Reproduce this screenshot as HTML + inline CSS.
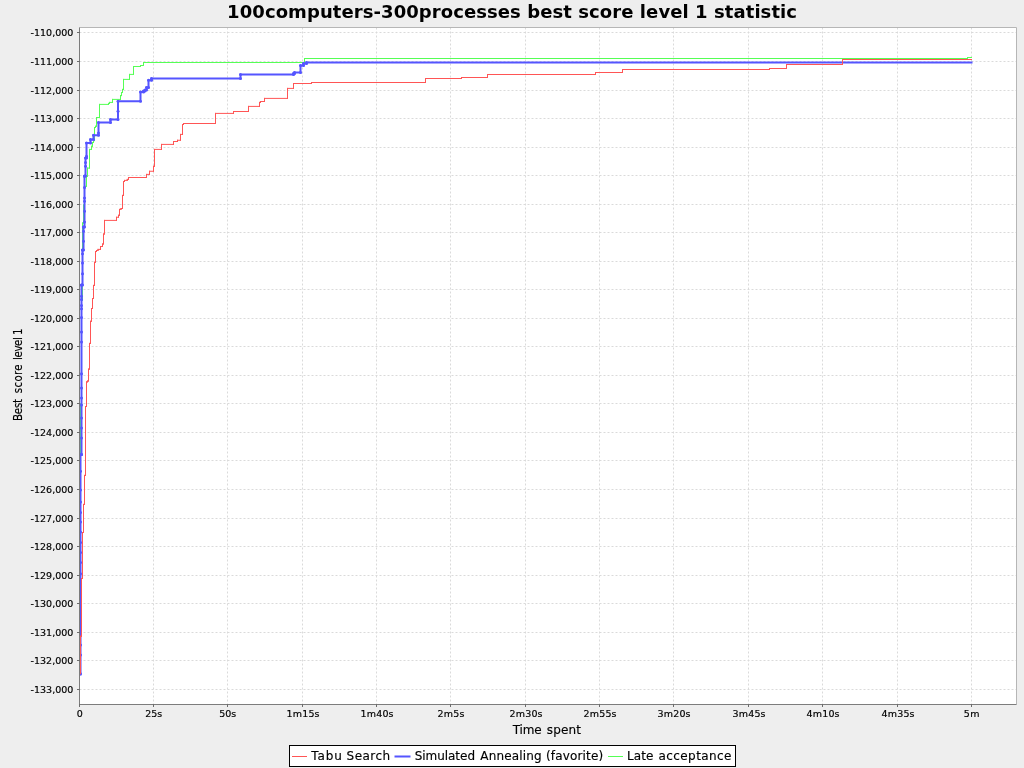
<!DOCTYPE html>
<html><head><meta charset="utf-8"><title>100computers-300processes best score level 1 statistic</title>
<style>
html,body{margin:0;padding:0;background:#eeeeee;}
svg{display:block;will-change:transform;}
text{font-family:"DejaVu Sans","Liberation Sans",sans-serif;fill:#000;}
.tk{font-size:9.5px;stroke:#000;stroke-width:0.18px;}
.ax{font-size:12px;stroke:#000;stroke-width:0.15px;}
.lg{font-size:12px;stroke:#000;stroke-width:0.15px;}
.ti{font-size:18px;font-weight:bold;}
</style></head><body>
<svg width="1024" height="768" viewBox="0 0 1024 768">
<rect x="0" y="0" width="1024" height="768" fill="#eeeeee"/>
<rect x="79.5" y="27.5" width="937" height="677" fill="#ffffff"/>
<g stroke="#dadada" stroke-width="1" stroke-dasharray="2,2" fill="none"><path d="M79.5,27.5 V704.5"/><path d="M153.5,27.5 V704.5"/><path d="M227.5,27.5 V704.5"/><path d="M302.5,27.5 V704.5"/><path d="M376.5,27.5 V704.5"/><path d="M450.5,27.5 V704.5"/><path d="M525.5,27.5 V704.5"/><path d="M599.5,27.5 V704.5"/><path d="M673.5,27.5 V704.5"/><path d="M748.5,27.5 V704.5"/><path d="M822.5,27.5 V704.5"/><path d="M897.5,27.5 V704.5"/><path d="M971.5,27.5 V704.5"/><path d="M79.5,32.5 H1016.5"/><path d="M79.5,61.5 H1016.5"/><path d="M79.5,90.5 H1016.5"/><path d="M79.5,118.5 H1016.5"/><path d="M79.5,147.5 H1016.5"/><path d="M79.5,175.5 H1016.5"/><path d="M79.5,204.5 H1016.5"/><path d="M79.5,232.5 H1016.5"/><path d="M79.5,261.5 H1016.5"/><path d="M79.5,289.5 H1016.5"/><path d="M79.5,318.5 H1016.5"/><path d="M79.5,346.5 H1016.5"/><path d="M79.5,375.5 H1016.5"/><path d="M79.5,403.5 H1016.5"/><path d="M79.5,432.5 H1016.5"/><path d="M79.5,460.5 H1016.5"/><path d="M79.5,489.5 H1016.5"/><path d="M79.5,518.5 H1016.5"/><path d="M79.5,546.5 H1016.5"/><path d="M79.5,575.5 H1016.5"/><path d="M79.5,603.5 H1016.5"/><path d="M79.5,632.5 H1016.5"/><path d="M79.5,660.5 H1016.5"/><path d="M79.5,689.5 H1016.5"/></g>
<g fill="none" stroke-linejoin="miter" stroke-linecap="square">
<path d="M80.5,674V404M80.5,404H81.5M81.5,404V300M81.5,300H82.5M82.5,300V223M82.5,223H83.5M83.5,223V205M83.5,205H84.5M84.5,205V186.25M84.5,186.25H86.5M86.5,186.25V176.25M86.5,176.25H87.5M87.5,176.25V168.1M87.5,168.1H89.5M89.5,168.1V149.4M89.5,149.4H91.5M91.5,149.4V146.25M91.5,146.25H92.5M92.5,146.25V142.5M92.5,142.5H93.5M93.5,142.5V140.6M93.5,140.6H94.5M94.5,140.6V127.5M94.5,127.5H95.5M95.5,127.5V126.25M95.5,126.25H96.5M96.5,126.25V117.5M96.5,117.5H99.5M99.5,117.5V104.4M99.5,104.4H108.5M108.5,104.4V103.4M108.5,103.4H109.5M109.5,103.4V102.4M109.5,102.4H112.5M112.5,102.4V99.4M112.5,99.4H120.5M120.5,99.4V95.6M120.5,95.6H121.5M121.5,95.6V92.5M121.5,92.5H122.5M122.5,92.5V89.4M122.5,89.4H123.5M123.5,89.4V79.4M123.5,79.4H129.5M129.5,79.4V74.4M129.5,74.4H133.5M133.5,74.4V66.5M133.5,66.5H140.5M140.5,66.5V65.5M140.5,65.5H143.5M143.5,65.5V62.5M143.5,62.5H304.5M304.5,62.5V58.5M304.5,58.5H967.5M967.5,58.5V57.5M967.5,57.5H971.5" stroke="#55ff55" stroke-width="1"/>
<path d="M80.5,674.5V454.5M80.5,454.5H81.5M81.5,454.5V285M81.5,285H82.5M82.5,285V250M82.5,250H83.5M83.5,250V227M83.5,227H84.5M84.5,227V176M84.5,176H85.5M85.5,176V158M85.5,158H86.5M86.5,158V143M86.5,143H90.5M90.5,143V139.5M90.5,139.5H93.5M93.5,139.5V135.25M93.5,135.25H98.5M98.5,135.25V122.4M98.5,122.4H110.5M110.5,122.4V119.4M110.5,119.4H118M118,119.4V101.25M118,101.25H140.5M140.5,101.25V91.9M140.5,91.9H143.5M143.5,91.9V91M143.5,91H145M145,91V90M145,90H146.5M146.5,90V87.5M146.5,87.5H148.5M148.5,87.5V80.25M148.5,80.25H151.5M151.5,80.25V78.4M151.5,78.4H240.5M240.5,78.4V74.5M240.5,74.5H293.5M293.5,74.5V73.5M293.5,73.5H294.5M294.5,73.5V72.6M294.5,72.6H300.5M300.5,72.6V65.5M300.5,65.5H303.5M303.5,65.5V63.6M303.5,63.6H306.5M306.5,63.6V62.4M306.5,62.4H971.5" stroke="#5555ff" stroke-width="2"/>
<g fill="#5555ff" stroke="none"><circle cx="80.5" cy="454.5" r="1.5"/><circle cx="81.5" cy="454.5" r="1.5"/><circle cx="81.5" cy="285" r="1.5"/><circle cx="82.5" cy="285" r="1.5"/><circle cx="82.5" cy="250" r="1.5"/><circle cx="83.5" cy="250" r="1.5"/><circle cx="83.5" cy="227" r="1.5"/><circle cx="84.5" cy="227" r="1.5"/><circle cx="84.5" cy="176" r="1.5"/><circle cx="85.5" cy="176" r="1.5"/><circle cx="85.5" cy="158" r="1.5"/><circle cx="86.5" cy="158" r="1.5"/><circle cx="86.5" cy="143" r="1.5"/><circle cx="90.5" cy="143" r="1.5"/><circle cx="90.5" cy="139.5" r="1.5"/><circle cx="93.5" cy="139.5" r="1.5"/><circle cx="93.5" cy="135.25" r="1.5"/><circle cx="98.5" cy="135.25" r="1.5"/><circle cx="98.5" cy="122.4" r="1.5"/><circle cx="110.5" cy="122.4" r="1.5"/><circle cx="110.5" cy="119.4" r="1.5"/><circle cx="118" cy="119.4" r="1.5"/><circle cx="118" cy="101.25" r="1.5"/><circle cx="140.5" cy="101.25" r="1.5"/><circle cx="140.5" cy="91.9" r="1.5"/><circle cx="143.5" cy="91.9" r="1.5"/><circle cx="143.5" cy="91" r="1.5"/><circle cx="145" cy="91" r="1.5"/><circle cx="145" cy="90" r="1.5"/><circle cx="146.5" cy="90" r="1.5"/><circle cx="146.5" cy="87.5" r="1.5"/><circle cx="148.5" cy="87.5" r="1.5"/><circle cx="148.5" cy="80.25" r="1.5"/><circle cx="151.5" cy="80.25" r="1.5"/><circle cx="151.5" cy="78.4" r="1.5"/><circle cx="240.5" cy="78.4" r="1.5"/><circle cx="240.5" cy="74.5" r="1.5"/><circle cx="293.5" cy="74.5" r="1.5"/><circle cx="293.5" cy="73.5" r="1.5"/><circle cx="294.5" cy="73.5" r="1.5"/><circle cx="294.5" cy="72.6" r="1.5"/><circle cx="300.5" cy="72.6" r="1.5"/><circle cx="300.5" cy="65.5" r="1.5"/><circle cx="303.5" cy="65.5" r="1.5"/><circle cx="303.5" cy="63.6" r="1.5"/><circle cx="306.5" cy="63.6" r="1.5"/><circle cx="306.5" cy="62.4" r="1.5"/><circle cx="80.5" cy="673.75" r="1.5"/><circle cx="80.5" cy="655" r="1.5"/><circle cx="80.5" cy="645" r="1.5"/><circle cx="80.5" cy="573.75" r="1.5"/><circle cx="80.5" cy="562.5" r="1.5"/><circle cx="80.5" cy="552.5" r="1.5"/><circle cx="80.5" cy="542.5" r="1.5"/><circle cx="80.5" cy="531.9" r="1.5"/><circle cx="80.5" cy="521.9" r="1.5"/><circle cx="80.5" cy="512.5" r="1.5"/><circle cx="80.5" cy="501.9" r="1.5"/><circle cx="80.5" cy="490" r="1.5"/><circle cx="80.5" cy="471.25" r="1.5"/><circle cx="81.5" cy="454.4" r="1.5"/><circle cx="81.5" cy="438.1" r="1.5"/><circle cx="81.5" cy="428.1" r="1.5"/><circle cx="81.5" cy="418.1" r="1.5"/><circle cx="81.5" cy="405" r="1.5"/><circle cx="81.5" cy="398.1" r="1.5"/><circle cx="81.5" cy="388.1" r="1.5"/><circle cx="81.5" cy="373.75" r="1.5"/><circle cx="81.5" cy="341.9" r="1.5"/><circle cx="81.5" cy="331.9" r="1.5"/><circle cx="81.5" cy="317.5" r="1.5"/><circle cx="81.5" cy="308.75" r="1.5"/><circle cx="81.5" cy="305.6" r="1.5"/><circle cx="81.5" cy="299.4" r="1.5"/><circle cx="81.5" cy="296.25" r="1.5"/><circle cx="81.5" cy="285" r="1.5"/><circle cx="82.5" cy="273.75" r="1.5"/><circle cx="82.5" cy="263.1" r="1.5"/><circle cx="82.5" cy="253.75" r="1.5"/><circle cx="82.5" cy="250" r="1.5"/><circle cx="83.5" cy="241.25" r="1.5"/><circle cx="83.5" cy="231.25" r="1.5"/><circle cx="83.5" cy="227" r="1.5"/><circle cx="84.5" cy="221.9" r="1.5"/><circle cx="84.5" cy="211.25" r="1.5"/><circle cx="84.5" cy="201.25" r="1.5"/><circle cx="84.5" cy="198.1" r="1.5"/><circle cx="84.5" cy="187.5" r="1.5"/><circle cx="84.5" cy="176.25" r="1.5"/><circle cx="85.5" cy="166.25" r="1.5"/><circle cx="85.5" cy="162.5" r="1.5"/><circle cx="86.5" cy="156.25" r="1.5"/><circle cx="98.5" cy="133.1" r="1.5"/><circle cx="118" cy="111.25" r="1.5"/></g>
<path d="M80.5,673.75V636.25M80.5,636.25H81.5M81.5,636.25V578.5M81.5,578.5H82.5M82.5,578.5V532.5M82.5,532.5H83.5M83.5,532.5V504.4M83.5,504.4H84.5M84.5,504.4V475.4M84.5,475.4H85.5M85.5,475.4V406.5M85.5,406.5H86.5M86.5,406.5V381.9M86.5,381.9H87.5M87.5,381.9V381M87.5,381H88.5M88.5,381V369.1M88.5,369.1H89.5M89.5,369.1V343.4M89.5,343.4H90.5M90.5,343.4V321.25M90.5,321.25H91.5M91.5,321.25V308.5M91.5,308.5H92.5M92.5,308.5V298.5M92.5,298.5H93.5M93.5,298.5V285.4M93.5,285.4H94.5M94.5,285.4V262.25M94.5,262.25H95.5M95.5,262.25V251.5M95.5,251.5H96.5M96.5,251.5V250.5M96.5,250.5H98M98,250.5V249.4M98,249.4H100.5M100.5,249.4V246.5M100.5,246.5H102.5M102.5,246.5V244M102.5,244H103.5M103.5,244V234M103.5,234H104.5M104.5,234V220.4M104.5,220.4H116.5M116.5,220.4V217.25M116.5,217.25H118.5M118.5,217.25V215.25M118.5,215.25H119.5M119.5,215.25V209.4M119.5,209.4H121M121,209.4V208.5M121,208.5H122.5M122.5,208.5V195.4M122.5,195.4H123.5M123.5,195.4V181.5M123.5,181.5H124.5M124.5,181.5V180.4M124.5,180.4H127.25M127.25,180.4V179.4M127.25,179.4H128.5M128.5,179.4V177.5M128.5,177.5H146.5M146.5,177.5V174.4M146.5,174.4H149.5M149.5,174.4V171.25M149.5,171.25H153.5M153.5,171.25V166.25M153.5,166.25H154.5M154.5,166.25V149.4M154.5,149.4H161.5M161.5,149.4V144.4M161.5,144.4H173.5M173.5,144.4V141.5M173.5,141.5H177.5M177.5,141.5V140.25M177.5,140.25H180.5M180.5,140.25V134.4M180.5,134.4H182.5M182.5,134.4V124.5M182.5,124.5H183.5M183.5,124.5V123.5M183.5,123.5H215.5M215.5,123.5V113.4M215.5,113.4H233.5M233.5,113.4V111.5M233.5,111.5H248.5M248.5,111.5V106.4M248.5,106.4H259.5M259.5,106.4V102.4M259.5,102.4H260.5M260.5,102.4V101.5M260.5,101.5H264.5M264.5,101.5V98.4M264.5,98.4H287.5M287.5,98.4V88.4M287.5,88.4H293.5M293.5,88.4V83.5M293.5,83.5H311.5M311.5,83.5V82.5M311.5,82.5H425.5M425.5,82.5V78.5M425.5,78.5H461.5M461.5,78.5V77.5M461.5,77.5H487.5M487.5,77.5V74.5M487.5,74.5H595.5M595.5,74.5V72.5M595.5,72.5H622.5M622.5,72.5V69.5M622.5,69.5H769.5M769.5,69.5V68.5M769.5,68.5H786.5M786.5,68.5V64.5M786.5,64.5H842.5M842.5,64.5V59.5M842.5,59.5H971.5" stroke="#ff5555" stroke-width="1"/>
</g>
<path d="M79.5,27.5 H1016.5 V704.5" stroke="#b6b6b6" stroke-width="1" fill="none"/>
<path d="M79.5,27.5 V704.5 H1016.5" stroke="#7c7c7c" stroke-width="1" fill="none"/>
<g stroke="#6c6c6c" stroke-width="1" shape-rendering="crispEdges"><path d="M77,32.5 H79.5"/><path d="M77,61.5 H79.5"/><path d="M77,90.5 H79.5"/><path d="M77,118.5 H79.5"/><path d="M77,147.5 H79.5"/><path d="M77,175.5 H79.5"/><path d="M77,204.5 H79.5"/><path d="M77,232.5 H79.5"/><path d="M77,261.5 H79.5"/><path d="M77,289.5 H79.5"/><path d="M77,318.5 H79.5"/><path d="M77,346.5 H79.5"/><path d="M77,375.5 H79.5"/><path d="M77,403.5 H79.5"/><path d="M77,432.5 H79.5"/><path d="M77,460.5 H79.5"/><path d="M77,489.5 H79.5"/><path d="M77,518.5 H79.5"/><path d="M77,546.5 H79.5"/><path d="M77,575.5 H79.5"/><path d="M77,603.5 H79.5"/><path d="M77,632.5 H79.5"/><path d="M77,660.5 H79.5"/><path d="M77,689.5 H79.5"/><path d="M79.5,704 V707"/><path d="M153.5,704 V707"/><path d="M227.5,704 V707"/><path d="M302.5,704 V707"/><path d="M376.5,704 V707"/><path d="M450.5,704 V707"/><path d="M525.5,704 V707"/><path d="M599.5,704 V707"/><path d="M673.5,704 V707"/><path d="M748.5,704 V707"/><path d="M822.5,704 V707"/><path d="M897.5,704 V707"/><path d="M971.5,704 V707"/></g>
<text class="tk" x="73.3" y="36" text-anchor="end">-110,000</text>
<text class="tk" x="73.3" y="65" text-anchor="end">-111,000</text>
<text class="tk" x="73.3" y="94" text-anchor="end">-112,000</text>
<text class="tk" x="73.3" y="122" text-anchor="end">-113,000</text>
<text class="tk" x="73.3" y="151" text-anchor="end">-114,000</text>
<text class="tk" x="73.3" y="179" text-anchor="end">-115,000</text>
<text class="tk" x="73.3" y="208" text-anchor="end">-116,000</text>
<text class="tk" x="73.3" y="236" text-anchor="end">-117,000</text>
<text class="tk" x="73.3" y="265" text-anchor="end">-118,000</text>
<text class="tk" x="73.3" y="293" text-anchor="end">-119,000</text>
<text class="tk" x="73.3" y="322" text-anchor="end">-120,000</text>
<text class="tk" x="73.3" y="350" text-anchor="end">-121,000</text>
<text class="tk" x="73.3" y="379" text-anchor="end">-122,000</text>
<text class="tk" x="73.3" y="407" text-anchor="end">-123,000</text>
<text class="tk" x="73.3" y="436" text-anchor="end">-124,000</text>
<text class="tk" x="73.3" y="464" text-anchor="end">-125,000</text>
<text class="tk" x="73.3" y="493" text-anchor="end">-126,000</text>
<text class="tk" x="73.3" y="522" text-anchor="end">-127,000</text>
<text class="tk" x="73.3" y="550" text-anchor="end">-128,000</text>
<text class="tk" x="73.3" y="579" text-anchor="end">-129,000</text>
<text class="tk" x="73.3" y="607" text-anchor="end">-130,000</text>
<text class="tk" x="73.3" y="636" text-anchor="end">-131,000</text>
<text class="tk" x="73.3" y="664" text-anchor="end">-132,000</text>
<text class="tk" x="73.3" y="693" text-anchor="end">-133,000</text>
<text class="tk" x="79.7" y="717" text-anchor="middle">0</text>
<text class="tk" x="153.7" y="717" text-anchor="middle">25s</text>
<text class="tk" x="227.7" y="717" text-anchor="middle">50s</text>
<text class="tk" x="286.47" y="717" textLength="33.1" lengthAdjust="spacing">1m15s</text>
<text class="tk" x="360.47" y="717" textLength="33.1" lengthAdjust="spacing">1m40s</text>
<text class="tk" x="437.6" y="717" textLength="26.8" lengthAdjust="spacing">2m5s</text>
<text class="tk" x="509.47" y="717" textLength="33.1" lengthAdjust="spacing">2m30s</text>
<text class="tk" x="583.47" y="717" textLength="33.1" lengthAdjust="spacing">2m55s</text>
<text class="tk" x="657.47" y="717" textLength="33.1" lengthAdjust="spacing">3m20s</text>
<text class="tk" x="732.47" y="717" textLength="33.1" lengthAdjust="spacing">3m45s</text>
<text class="tk" x="806.47" y="717" textLength="33.1" lengthAdjust="spacing">4m10s</text>
<text class="tk" x="881.47" y="717" textLength="33.1" lengthAdjust="spacing">4m35s</text>
<text class="tk" x="963.825" y="717" textLength="15.75" lengthAdjust="spacing">5m</text>
<text class="ax" transform="translate(22,421.06) rotate(-90) scale(0.860,1)"><tspan x="0.00" textLength="25.79" lengthAdjust="spacing">Best</tspan> <tspan x="32.40" textLength="33.48" lengthAdjust="spacing">score</tspan> <tspan x="71.09" textLength="26.53" lengthAdjust="spacing">level</tspan> <tspan x="100.07" textLength="7.81" lengthAdjust="spacing">1</tspan></text>
<text class="ti" x="227.1" y="18" textLength="569.9" lengthAdjust="spacing">100computers-300processes best score level 1 statistic</text>
<rect x="289.5" y="745.5" width="446" height="21" fill="#ffffff" stroke="#000000" stroke-width="1"/>
<path d="M292.5,756.5 H306.5" stroke="#ff5555" stroke-width="1" stroke-linecap="square"/>
<path d="M395.5,756.5 H409.5" stroke="#5555ff" stroke-width="2" stroke-linecap="square"/>
<path d="M608.5,756.5 H622.5" stroke="#55ff55" stroke-width="1" stroke-linecap="square"/>
<text class="ax" y="734"><tspan x="512.70" textLength="29.00" lengthAdjust="spacing">Time</tspan> <tspan x="546.70" textLength="34.36" lengthAdjust="spacing">spent</tspan></text>
<text class="lg" y="760"><tspan x="311.30" textLength="30.60" lengthAdjust="spacing">Tabu</tspan> <tspan x="346.58" textLength="43.63" lengthAdjust="spacing">Search</tspan></text>
<text class="lg" y="760"><tspan x="414.70" textLength="60.30" lengthAdjust="spacing">Simulated</tspan> <tspan x="480.30" textLength="61.33" lengthAdjust="spacing">Annealing</tspan> <tspan x="546.00" textLength="57.10" lengthAdjust="spacing">(favorite)</tspan></text>
<text class="lg" y="760"><tspan x="626.95" textLength="26.45" lengthAdjust="spacing">Late</tspan> <tspan x="658.58" textLength="72.80" lengthAdjust="spacing">acceptance</tspan></text>
</svg></body></html>
